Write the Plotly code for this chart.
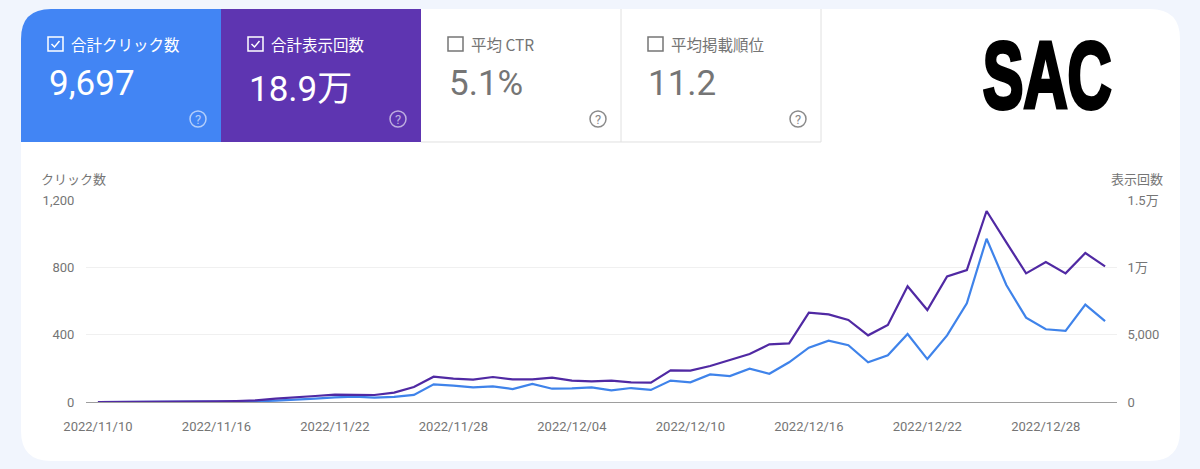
import pandas as pd
import plotly.graph_objects as go

W = 1200
H = 469

BLUE = "#4285f4"
PURPLE = "#5e35b1"
LINE_BLUE = "#3f83ea"
LINE_PURPLE = "#5029a3"
GRAY = "#757575"
CJK = "Noto Sans CJK JP, Roboto, sans-serif"
TICK_FONT = "Roboto, Noto Sans CJK JP, sans-serif"

dates = pd.date_range("2022-11-10", "2022-12-31", freq="D")
clicks = [0, 0, 2, 2, 2, 2, 2, 3, 4, 8, 12, 20, 28, 32, 26, 30, 42,
          105, 97, 87, 93, 77, 107, 79, 81, 87, 69, 83, 72,
          127, 117, 164, 154, 198, 168, 236, 323, 364, 337, 236, 277,
          404, 255, 396, 586, 970, 695, 501, 432, 422, 578, 481]
impressions = [0, 0, 25, 25, 25, 50, 50, 75, 125, 248, 322, 445, 545, 545, 520, 693, 1114,
               1881, 1733, 1658, 1856, 1683, 1683, 1807, 1584, 1535, 1584, 1460, 1436,
               2351, 2327, 2673, 3143, 3564, 4282, 4356, 6633, 6509, 6089, 4950, 5717,
               8588, 6831, 9331, 9801, 14182, 11855, 9554, 10395, 9554, 11063, 10073]

click_ticks = [0, 400, 800, 1200]
impression_ticks = [0, 5000, 10000, 15000]
impression_labels = ["0", "5,000", "1万", "1.5万"]

card_titles = ["合計クリック数", "合計表示回数", "平均 CTR", "平均掲載順位"]
card_values = ["9,697", "18.9万", "5.1%", "11.2"]

# the default body margin would push the chart 8px in, and there's no condensed heavy font for SAC
POST_SCRIPT = """
document.documentElement.style.background = '#f1f5fd';
document.body.style.margin = '0';
document.body.style.overflow = 'hidden';
document.querySelectorAll('.annotation-text').forEach(function (el) {
    if (el.textContent === 'SAC') {
        el.style.transformBox = 'fill-box';
        el.style.transformOrigin = 'center';
        el.style.transform = 'scaleX(0.65)';
        el.style.stroke = 'black';
        el.style.strokeWidth = '4px';
    }
});
"""


def px(x):
    return x / W


def py(y):
    return 1 - y / H


def rect(x0, y0, x1, y1, **kw):
    return dict(type="rect", xref="paper", yref="paper", x0=px(x0), x1=px(x1),
                y0=py(y1), y1=py(y0), layer="below", **kw)


def path(points, **kw):
    d = " ".join(points)
    return dict(type="path", xref="paper", yref="paper", path=d, layer="below", **kw)


def pt(cmd, x, y):
    return "{} {:.5f} {:.5f}".format(cmd, px(x), py(y))


def rounded_panel(x0, y0, x1, y1, rx=30):
    return [pt("M", x0 + rx, y0), pt("L", x1 - rx, y0),
            pt("Q", x1, y0) + " {:.5f} {:.5f}".format(px(x1), py(y0 + rx)),
            pt("L", x1, y1 - rx),
            pt("Q", x1, y1) + " {:.5f} {:.5f}".format(px(x1 - rx), py(y1)),
            pt("L", x0 + rx, y1),
            pt("Q", x0, y1) + " {:.5f} {:.5f}".format(px(x0), py(y1 - rx)),
            pt("L", x0, y0 + rx),
            pt("Q", x0, y0) + " {:.5f} {:.5f}".format(px(x0 + rx), py(y0)), "Z"]


def label(x, y, text, size, color, anchor="left", family=CJK, **kw):
    return dict(xref="paper", yref="paper", x=px(x), y=py(y), text=text, showarrow=False,
                xanchor=anchor, yanchor="middle", font=dict(size=size, color=color, family=family),
                **kw)


shapes = []
annotations = []

shapes.append(path(rounded_panel(21, 9, 1180, 461), fillcolor="white", line=dict(width=0)))
# blue card has the panel's rounded corner
shapes.append(path([pt("M", 51, 9), pt("L", 221, 9), pt("L", 221, 142), pt("L", 21, 142), pt("L", 21, 39),
                    pt("Q", 21, 9) + " {:.5f} {:.5f}".format(px(51), py(9)), "Z"],
                   fillcolor=BLUE, line=dict(width=0)))
shapes.append(rect(221, 9, 421, 142, fillcolor=PURPLE, line=dict(width=0)))
shapes.append(path([pt("M", 621, 9), pt("L", 621, 142), pt("L", 421, 142)], line=dict(color="#e0e0e0", width=1)))
shapes.append(path([pt("M", 821, 9), pt("L", 821, 142), pt("L", 621, 142)], line=dict(color="#e0e0e0", width=1)))

for i, title in enumerate(card_titles):
    left = 21 + 200 * i
    active = i < 2
    fg = "white" if active else GRAY
    shapes.append(rect(left + 27, 37, left + 42, 51, fillcolor="rgba(0,0,0,0)",
                       line=dict(color=fg, width=1.5)))
    if active:
        shapes.append(path([pt("M", left + 30.5, 44), pt("L", left + 33.5, 47), pt("L", left + 38.5, 41)],
                           line=dict(color=fg, width=1.5)))
    annotations.append(label(left + 47.5, 44, title, 15.5, "white" if active else GRAY))
    value_y = 90 if i == 1 else 83
    annotations.append(label(left + 25.5, value_y, card_values[i], 35, fg, family=TICK_FONT))
    # help icon
    shapes.append(dict(type="circle", xref="paper", yref="paper", x0=px(left + 169), x1=px(left + 185),
                       y0=py(127), y1=py(111), layer="below",
                       line=dict(color="rgba(255,255,255,0.6)" if active else "#8a8a8a", width=1.5)))
    annotations.append(label(left + 177, 119, "?", 13, "rgba(255,255,255,0.6)" if active else "#8a8a8a",
                             anchor="center", family=TICK_FONT))

annotations.append(label(1047, 75, "<b>SAC</b>", 94, "black", anchor="center", family="Liberation Sans"))
annotations.append(label(39, 178, "クリック数", 13, GRAY))
annotations.append(label(1165, 178, "表示回数", 13, GRAY, anchor="right"))

fig = go.Figure()
fig.add_trace(go.Scatter(x=dates, y=impressions, mode="lines", yaxis="y2", name="表示回数",
                         line=dict(color=LINE_PURPLE, width=2.2)))
fig.add_trace(go.Scatter(x=dates, y=clicks, mode="lines", name="クリック数",
                         line=dict(color=LINE_BLUE, width=2.2)))

fig.update_layout(
    width=W, height=H,
    margin=dict(l=0, r=0, t=0, b=0),
    paper_bgcolor="#f1f5fd",
    plot_bgcolor="rgba(0,0,0,0)",
    showlegend=False,
    shapes=shapes,
    annotations=annotations,
    xaxis=dict(
        automargin=False,
        domain=[px(86), px(1117)],
        type="date",
        range=["2022-11-09 09:30", "2022-12-31 14:30"],
        tick0="2022-11-10",
        dtick=6 * 86400000,
        tickformat="%Y/%m/%d",
        showgrid=False,
        zeroline=False,
        showline=True,
        linecolor="#9e9e9e",
        linewidth=1,
        ticks="outside",
        ticklen=12,
        tickcolor="rgba(0,0,0,0)",
        tickfont=dict(family=TICK_FONT, size=13, color=GRAY),
    ),
    yaxis=dict(
        automargin=False,
        domain=[py(402), py(200)],
        range=[0, 1200],
        tickvals=click_ticks,
        tickformat=",",
        gridcolor="#f0f0f0",
        zeroline=False,
        ticks="outside",
        ticklen=8,
        tickcolor="rgba(0,0,0,0)",
        tickfont=dict(family=TICK_FONT, size=13, color=GRAY),
    ),
    yaxis2=dict(
        automargin=False,
        domain=[py(402), py(200)],
        overlaying="y",
        side="right",
        range=[0, 15000],
        tickvals=impression_ticks,
        ticktext=impression_labels,
        showgrid=False,
        zeroline=False,
        ticks="outside",
        ticklen=7,
        tickcolor="rgba(0,0,0,0)",
        tickfont=dict(family=TICK_FONT, size=13, color=GRAY),
    ),
)

fig.write_html("out.html", config=dict(displayModeBar=False), post_script=POST_SCRIPT)
